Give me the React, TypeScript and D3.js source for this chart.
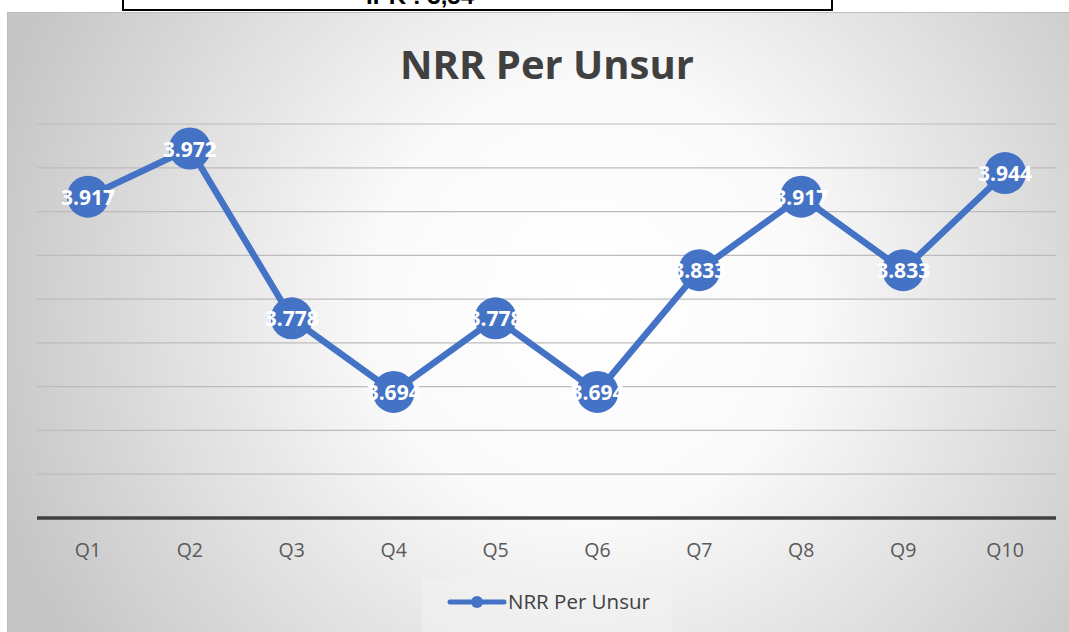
import { useMemo } from 'react';
import * as d3 from 'd3';

const CATEGORIES = ['Q1', 'Q2', 'Q3', 'Q4', 'Q5', 'Q6', 'Q7', 'Q8', 'Q9', 'Q10'];
const VALUES = [3.917, 3.972, 3.778, 3.694, 3.778, 3.694, 3.833, 3.917, 3.833, 3.944];
const Y_DOMAIN = [3.55, 4.0];
const Y_TICKS = [3.6, 3.65, 3.7, 3.75, 3.8, 3.85, 3.9, 3.95, 4.0];
const TITLE = 'NRR Per Unsur';
const SERIES_NAME = 'NRR Per Unsur';
const HEADER_TEXT = 'IPK : 3,54';

const W = 1069;
const H = 632;
const BLUE = '#4472C4';
const FONT = '"Open Sans", "Liberation Sans", sans-serif';

const PLOT = { left: 37, right: 1056, top: 124, bottom: 518 };

export default function App() {
  const x = useMemo(
    () => d3.scaleBand().domain(CATEGORIES).range([PLOT.left, PLOT.right]),
    []
  );
  const y = useMemo(
    () => d3.scaleLinear().domain(Y_DOMAIN).range([PLOT.bottom, PLOT.top]),
    []
  );
  const cx = (c) => x(c) + x.bandwidth() / 2;

  const line = d3
    .line()
    .x((d, i) => cx(CATEGORIES[i]))
    .y((d) => y(d));

  return (
    <div style={{ position: 'absolute', left: 0, top: 0 }}>
      <svg width={W} height={H} style={{ display: 'block', fontFamily: FONT }}>
        <defs>
          <radialGradient
            id="bg"
            gradientUnits="userSpaceOnUse"
            cx={590}
            cy={300}
            r={620}
          >
            <stop offset="0" stopColor="#ffffff" />
            <stop offset="0.35" stopColor="#fafafa" />
            <stop offset="1" stopColor="#c6c6c6" />
          </radialGradient>
        </defs>
        <rect width={W} height={H} fill="#ffffff" />

        {/* header box, cut off at the top in the original */}
        <rect x={123} y={-40} width={709} height={50} fill="#ffffff" stroke="#000" strokeWidth={2} />
        <text x={420} y={4} textAnchor="middle" fontSize={24} fontWeight="bold" fontFamily='"Liberation Sans", Arial, sans-serif' fill="#000">
          {HEADER_TEXT}
        </text>

        {/* chart area */}
        <rect x={7} y={12} width={W - 7} height={H - 12} fill="url(#bg)" />
        <line x1={7} x2={W} y1={12.5} y2={12.5} stroke="#bdbdbd" strokeWidth={1} />
        <line x1={7.5} x2={7.5} y1={12} y2={H} stroke="#bdbdbd" strokeWidth={1} />

        <text x={547} y={79} textAnchor="middle" fontSize={40} fontWeight="bold" fill="#404040">
          {TITLE}
        </text>

        {/* gridlines */}
        {Y_TICKS.map((t) => (
          <line
            key={t}
            x1={PLOT.left}
            x2={PLOT.right}
            y1={y(t)}
            y2={y(t)}
            stroke="#bcbcbc"
            strokeWidth={1.2}
          />
        ))}
        <line
          x1={PLOT.left}
          x2={PLOT.right}
          y1={y(Y_DOMAIN[0])}
          y2={y(Y_DOMAIN[0])}
          stroke="#404040"
          strokeWidth={3.5}
        />

        {/* x axis labels */}
        {CATEGORIES.map((c) => (
          <text
            key={c}
            x={cx(c)}
            y={557}
            textAnchor="middle"
            fontSize={19.5}
            fill="#595959"
          >
            {c}
          </text>
        ))}

        {/* series */}
        <path d={line(VALUES)} fill="none" stroke={BLUE} strokeWidth={6.5} strokeLinejoin="round" />
        {VALUES.map((v, i) => (
          <circle key={i} cx={cx(CATEGORIES[i])} cy={y(v)} r={21} fill={BLUE} />
        ))}
        {VALUES.map((v, i) => (
          <text
            key={i}
            x={cx(CATEGORIES[i])}
            y={y(v) + 8}
            textAnchor="middle"
            fontSize={21}
            fontWeight="bold"
            fill="#ffffff"
          >
            {d3.format('.3f')(v)}
          </text>
        ))}

        {/* legend */}
        <rect x={422} y={578} width={250} height={54} fill="#f2f2f2" opacity={0.6} />
        <line x1={450} x2={504} y1={602} y2={602} stroke={BLUE} strokeWidth={5} strokeLinecap="round" />
        <circle cx={477} cy={602} r={6} fill={BLUE} />
        <text x={508} y={609} fontSize={20.5} fill="#404040">
          {SERIES_NAME}
        </text>
      </svg>
    </div>
  );
}
